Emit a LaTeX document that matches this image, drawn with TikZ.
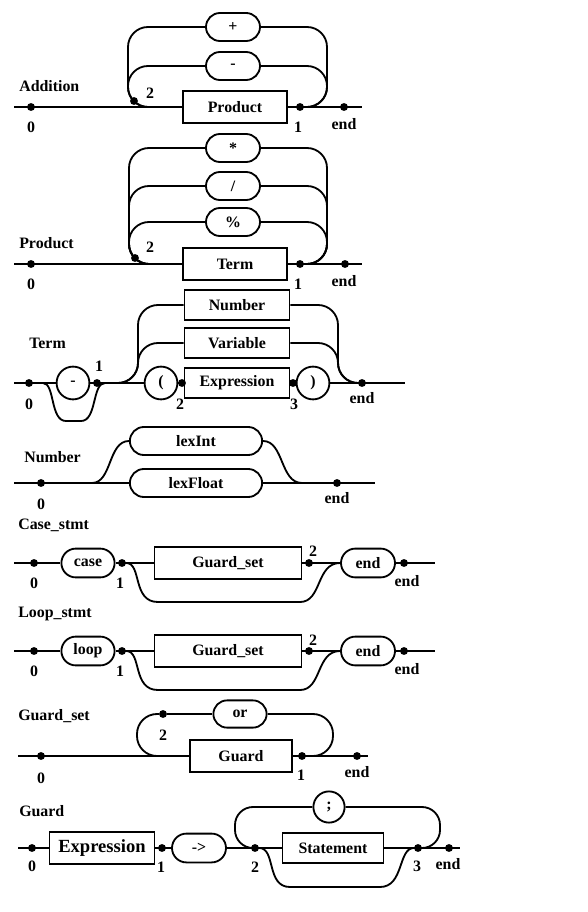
\documentclass[tikz,border=0pt]{standalone}
\usepackage{fontspec}
\setmainfont{Liberation Serif}
\usetikzlibrary{shapes.misc,positioning}

\tikzset{
  rail/.style={line width=1.3pt},
  nterm/.style={draw, line width=1.3pt, rectangle, minimum width=2.6cm, minimum height=0.78cm, inner sep=1pt, font=\bfseries\fontsize{11.3}{13}\selectfont},
  term/.style={draw, line width=1.3pt, rounded rectangle, minimum width=1.42cm, minimum height=0.7cm, inner sep=1pt, font=\bfseries\fontsize{11.3}{13}\selectfont},
  tchar/.style={draw, line width=1.3pt, circle, minimum size=0.82cm, inner sep=0pt, font=\bfseries\fontsize{11.3}{13}\selectfont},
  joint/.style={circle, fill, inner sep=0pt, minimum size=5.6pt},
  lbl/.style={inner sep=0pt, font=\bfseries\fontsize{11.3}{13}\selectfont},
}

\begin{document}
\begin{tikzpicture}[x=0.025cm, y=-0.025cm]
    \useasboundingbox (0,0) rectangle (587,912);

    % Addition
    \node[lbl, anchor=west] (addName) at (19,86) {Addition};
    \coordinate (addIn) at (14,107);
    \coordinate (addOut) at (362,107);
    \node[nterm] (addProd) at (235,107) {Product};
    \node[term] (addPlus) at (233,27) {+};
    \node[term] (addMinus) at (233,66) {-};
    \node[joint] (add0) at (31,107) {};
    \node[joint] (add2) at (134,101) {};
    \node[joint] (add1) at (300,107) {};
    \node[joint] (addEnd) at (344,107) {};
    \node[lbl] (add0l) at (31,127) {0};
    \node[lbl] (add2l) at (150,93) {2};
    \node[lbl] (add1l) at (298,127) {1};
    \node[lbl] (addEndl) at (344,124) {end};
    \draw[rail] (addIn) -- (addProd.west);
    \draw[rail] (addProd.east) -- (addOut);
    \draw[rail, rounded corners=0.5cm] (addPlus.west) -| (128,107) -- (addProd.west);
    \draw[rail, rounded corners=0.5cm] (addMinus.west) -| (128,107) -- (addProd.west);
    \draw[rail, rounded corners=0.5cm] (addPlus.east) -| (327,107) -- (add1);
    \draw[rail, rounded corners=0.5cm] (addMinus.east) -| (327,107) -- (add1);

    % Product
    \node[lbl, anchor=west] (prdName) at (19,243) {Product};
    \coordinate (prdIn) at (14,264);
    \coordinate (prdOut) at (362,264);
    \node[nterm] (prdTerm) at (235,264) {Term};
    \node[term] (prdMul) at (233,148) {*};
    \node[term] (prdDiv) at (233,186) {/};
    \node[term] (prdMod) at (233,222) {\%};
    \node[joint] (prd0) at (31,264) {};
    \node[joint] (prd2) at (135,258) {};
    \node[joint] (prd1) at (300,264) {};
    \node[joint] (prdEnd) at (345,264) {};
    \node[lbl] (prd0l) at (31,284) {0};
    \node[lbl] (prd2l) at (150,247) {2};
    \node[lbl] (prd1l) at (298,284) {1};
    \node[lbl] (prdEndl) at (344,281) {end};
    \draw[rail] (prdIn) -- (prdTerm.west);
    \draw[rail] (prdTerm.east) -- (prdOut);
    \foreach \op in {prdMul,prdDiv,prdMod}{
        \draw[rail, rounded corners=0.5cm] (\op.west) -| (129,264) -- (prdTerm.west);
        \draw[rail, rounded corners=0.5cm] (\op.east) -| (327,264) -- (prd1);
    }

    % Term
    \node[lbl, anchor=west] (trmName) at (29,343) {Term};
    \coordinate (trmIn) at (14,383);
    \coordinate (trmOut) at (405,383);
    \coordinate (trmSkipA) at (43,383);
    \coordinate (trmSkipB) at (105,383);
    \coordinate (trmSplit) at (118,383);
    \coordinate (trmJoin) at (358,383);
    \node[joint] (trm0) at (29,383) {};
    \node[tchar] (trmNeg) at (73,383) {-};
    \node[joint] (trm1) at (97,383) {};
    \node[tchar] (trmLp) at (161,383) {(};
    \node[joint] (trm2) at (182,383) {};
    \node[nterm, minimum width=2.625cm, minimum height=0.76cm] (trmExpr) at (237,383) {Expression};
    \node[joint] (trm3) at (293,383) {};
    \node[tchar] (trmRp) at (313,383) {)};
    \node[joint] (trmEnd) at (362,383) {};
    \node[nterm, minimum width=2.625cm, minimum height=0.76cm] (trmNum) at (237,305) {Number};
    \node[nterm, minimum width=2.625cm, minimum height=0.76cm] (trmVar) at (237,343) {Variable};
    \node[lbl] (trm0l) at (29,404) {0};
    \node[lbl] (trm1l) at (99,366) {1};
    \node[lbl] (trm2l) at (180,404) {2};
    \node[lbl] (trm3l) at (294,404) {3};
    \node[lbl] (trmEndl) at (362,398) {end};
    \draw[rail] (trmIn) -- (trmNeg.west);
    \draw[rail] (trmNeg.east) -- (trmLp.west);
    \draw[rail] (trmLp.east) -- (trmExpr.west);
    \draw[rail] (trmExpr.east) -- (trmRp.west);
    \draw[rail] (trmRp.east) -- (trmOut);
    \draw[rail] (trmSkipA) .. controls (55,383) and (50,421) .. (66,421) -- (81,421) .. controls (97,421) and (92,383) .. (trmSkipB);
    \foreach \alt in {trmNum,trmVar}{
        \draw[rail, rounded corners=0.5cm] (\alt.west) -| (138,383) -- (trmSplit);
        \draw[rail, rounded corners=0.5cm] (\alt.east) -| (338,383) -- (trmJoin);
    }

    % Number
    \node[lbl, anchor=west] (numName) at (24,457) {Number};
    \coordinate (numIn) at (14,483);
    \coordinate (numOut) at (375,483);
    \coordinate (numSplit) at (92,483);
    \coordinate (numJoin) at (302,483);
    \node[joint] (num0) at (41,483) {};
    \node[term, minimum width=3.375cm] (numInt) at (196,441) {lexInt};
    \node[term, minimum width=3.375cm] (numFloat) at (196,483) {lexFloat};
    \node[joint] (numEnd) at (337,483) {};
    \node[lbl] (num0l) at (41,504) {0};
    \node[lbl] (numEndl) at (337,498) {end};
    \draw[rail] (numIn) -- (numFloat.west);
    \draw[rail] (numFloat.east) -- (numOut);
    \draw[rail] (numSplit) .. controls (112,483) and (108,441) .. (numInt.west);
    \draw[rail] (numInt.east) .. controls (284,441) and (280,483) .. (numJoin);

    % Case_stmt
    \node[lbl, anchor=west] (casName) at (18,525) {Case\_stmt};
    \coordinate (casIn) at (14,563);
    \coordinate (casOut) at (435,563);
    \node[joint] (cas0) at (34,563) {};
    \node[term, minimum width=1.4cm, minimum height=0.72cm] (casKw) at (88,563) {case};
    \node[joint] (cas1) at (122,563) {};
    \node[nterm, minimum width=3.675cm, minimum height=0.8cm] (casGs) at (228,563) {Guard\_set};
    \node[joint] (cas2) at (309,563) {};
    \node[term, minimum width=1.42cm, minimum height=0.72cm] (casEndKw) at (368,563) {end};
    \node[joint] (casEnd) at (404,563) {};
    \node[lbl] (cas0l) at (34,583) {0};
    \node[lbl] (cas1l) at (120,583) {1};
    \node[lbl] (cas2l) at (313,551) {2};
    \node[lbl] (casEndl) at (407,581) {end};
    \draw[rail] (casIn) -- (casKw.west);
    \draw[rail] (casKw.east) -- (casGs.west);
    \draw[rail] (casGs.east) -- (casEndKw.west);
    \draw[rail] (casEndKw.east) -- (casOut);
    \draw[rail] (cas1) .. controls (142,563) and (132,602) .. (158,602) -- (300,602) .. controls (322,602) and (316,563) .. (casEndKw.west);

    % Loop_stmt
    \node[lbl, anchor=west] (lopName) at (18,614) {Loop\_stmt};
    \coordinate (lopIn) at (14,651);
    \coordinate (lopOut) at (435,651);
    \node[joint] (lop0) at (34,651) {};
    \node[term, minimum width=1.4cm, minimum height=0.72cm] (lopKw) at (88,651) {loop};
    \node[joint] (lop1) at (122,651) {};
    \node[nterm, minimum width=3.675cm, minimum height=0.8cm] (lopGs) at (228,651) {Guard\_set};
    \node[joint] (lop2) at (309,651) {};
    \node[term, minimum width=1.42cm, minimum height=0.72cm] (lopEndKw) at (368,651) {end};
    \node[joint] (lopEnd) at (404,651) {};
    \node[lbl] (lop0l) at (34,671) {0};
    \node[lbl] (lop1l) at (120,671) {1};
    \node[lbl] (lop2l) at (313,640) {2};
    \node[lbl] (lopEndl) at (407,669) {end};
    \draw[rail] (lopIn) -- (lopKw.west);
    \draw[rail] (lopKw.east) -- (lopGs.west);
    \draw[rail] (lopGs.east) -- (lopEndKw.west);
    \draw[rail] (lopEndKw.east) -- (lopOut);
    \draw[rail] (lop1) .. controls (142,651) and (132,690) .. (158,690) -- (300,690) .. controls (322,690) and (316,651) .. (lopEndKw.west);

    % Guard_set
    \node[lbl, anchor=west] (gstName) at (18,716) {Guard\_set};
    \coordinate (gstIn) at (18,756);
    \coordinate (gstOut) at (368,756);
    \node[joint] (gst0) at (41,756) {};
    \node[nterm, minimum width=2.55cm] (gstGuard) at (241,756) {Guard};
    \node[term, minimum width=1.4cm, minimum height=0.68cm] (gstOr) at (240,714) {or};
    \node[joint] (gst2) at (163,714) {};
    \node[joint] (gst1) at (302,756) {};
    \node[joint] (gstEnd) at (357,756) {};
    \node[lbl] (gst0l) at (41,778) {0};
    \node[lbl] (gst2l) at (163,735) {2};
    \node[lbl] (gst1l) at (301,775) {1};
    \node[lbl] (gstEndl) at (357,772) {end};
    \draw[rail] (gstIn) -- (gstGuard.west);
    \draw[rail] (gstGuard.east) -- (gstOut);
    \draw[rail] (gstOr.west) -- (gst2);
    \draw[rail, rounded corners=0.5cm] (gst2) -- (137,714) -- (137,756) -- (gstGuard.west);
    \draw[rail, rounded corners=0.5cm] (gst1) -- (333,756) -- (333,714) -- (gstOr.east);

    % Guard
    \node[lbl, anchor=west] (grdName) at (19,811) {Guard};
    \coordinate (grdIn) at (18,848);
    \coordinate (grdOut) at (460,848);
    \node[joint] (grd0) at (32,848) {};
    \node[nterm, minimum width=2.625cm, font=\bfseries\fontsize{13.2}{15}\selectfont] (grdExpr) at (102,848) {Expression};
    \node[joint] (grd1) at (162,848) {};
    \node[term, minimum width=1.42cm, minimum height=0.72cm] (grdArrow) at (199,848) {->};
    \node[joint] (grd2) at (255,848) {};
    \node[nterm, minimum width=2.525cm, minimum height=0.76cm] (grdStmt) at (333,848) {Statement};
    \node[joint] (grd3) at (418,848) {};
    \node[joint] (grdEnd) at (449,848) {};
    \node[tchar, minimum size=0.78cm] (grdSemi) at (329,807) {;};
    \node[lbl] (grd0l) at (32,866) {0};
    \node[lbl] (grd1l) at (161,867) {1};
    \node[lbl] (grd2l) at (255,867) {2};
    \node[lbl] (grd3l) at (417,866) {3};
    \node[lbl] (grdEndl) at (448,864) {end};
    \draw[rail] (grdIn) -- (grdExpr.west);
    \draw[rail] (grdExpr.east) -- (grdArrow.west);
    \draw[rail] (grdArrow.east) -- (grdStmt.west);
    \draw[rail] (grdStmt.east) -- (grdOut);
    \draw[rail, rounded corners=0.45cm] (grd2) -- (235,848) -- (235,807) -- (grdSemi.west);
    \draw[rail, rounded corners=0.45cm] (grd3) -- (440,848) -- (440,807) -- (grdSemi.east);
    \draw[rail] (grd2) .. controls (276,848) and (266,887) .. (290,887) -- (380,887) .. controls (404,887) and (398,848) .. (grd3);
\end{tikzpicture}
\end{document}
